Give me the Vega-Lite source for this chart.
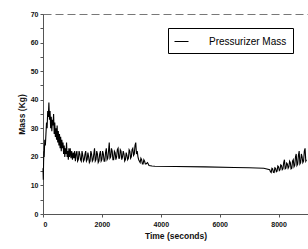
{
  "$schema": "https://vega.github.io/schema/vega-lite/v6.json",
  "width": 265,
  "height": 200,
  "autosize": {"type": "none"},
  "padding": {"left": 43, "top": 14, "right": 0, "bottom": 35},
  "background": "white",
  "config": {
    "font": "Liberation Sans",
    "view": {"stroke": "#777", "strokeDash": [8, 4], "strokeWidth": 1}
  },
  "data": {
    "values": [
      {"t": 0, "m": 16}, {"t": 10, "m": 12}, {"t": 20, "m": 18}, {"t": 30, "m": 22}, {"t": 40, "m": 20},
      {"t": 60, "m": 26}, {"t": 80, "m": 24}, {"t": 100, "m": 28}, {"t": 120, "m": 32}, {"t": 140, "m": 30},
      {"t": 160, "m": 36}, {"t": 180, "m": 34}, {"t": 200, "m": 39}, {"t": 220, "m": 33}, {"t": 240, "m": 36},
      {"t": 260, "m": 30}, {"t": 280, "m": 34}, {"t": 300, "m": 29}, {"t": 320, "m": 33}, {"t": 340, "m": 31},
      {"t": 360, "m": 35}, {"t": 380, "m": 28}, {"t": 400, "m": 32}, {"t": 420, "m": 27}, {"t": 440, "m": 30},
      {"t": 460, "m": 26}, {"t": 480, "m": 31}, {"t": 500, "m": 25}, {"t": 520, "m": 29}, {"t": 540, "m": 24},
      {"t": 560, "m": 28}, {"t": 580, "m": 23}, {"t": 600, "m": 27}, {"t": 620, "m": 22}, {"t": 640, "m": 26},
      {"t": 660, "m": 23}, {"t": 680, "m": 25}, {"t": 700, "m": 21}, {"t": 720, "m": 24}, {"t": 740, "m": 20},
      {"t": 760, "m": 23}, {"t": 780, "m": 21}, {"t": 800, "m": 25}, {"t": 820, "m": 20}, {"t": 840, "m": 22},
      {"t": 860, "m": 19}, {"t": 880, "m": 23}, {"t": 900, "m": 20}, {"t": 925, "m": 23}, {"t": 950, "m": 19.5},
      {"t": 975, "m": 22}, {"t": 1000, "m": 19}, {"t": 1025, "m": 21.5},
      {"t": 1050, "m": 19.5}, {"t": 1075, "m": 22}, {"t": 1100, "m": 18.5}, {"t": 1125, "m": 21}, {"t": 1150, "m": 22},
      {"t": 1175, "m": 18.5}, {"t": 1200, "m": 19}, {"t": 1225, "m": 22}, {"t": 1250, "m": 21},
      {"t": 1275, "m": 19}, {"t": 1300, "m": 18.5}, {"t": 1325, "m": 22}, {"t": 1350, "m": 20.5}, {"t": 1375, "m": 18.5},
      {"t": 1400, "m": 19}, {"t": 1425, "m": 21}, {"t": 1450, "m": 22}, {"t": 1475, "m": 18.5}, {"t": 1500, "m": 19},
      {"t": 1525, "m": 21.5}, {"t": 1550, "m": 20}, {"t": 1575, "m": 18}, {"t": 1600, "m": 18.5}, {"t": 1625, "m": 22},
      {"t": 1650, "m": 21}, {"t": 1675, "m": 18.5}, {"t": 1700, "m": 19}, {"t": 1725, "m": 21}, {"t": 1750, "m": 23},
      {"t": 1775, "m": 18.5}, {"t": 1800, "m": 19}, {"t": 1825, "m": 22}, {"t": 1850, "m": 21}, {"t": 1875, "m": 18},
      {"t": 1900, "m": 18.5}, {"t": 1925, "m": 21}, {"t": 1950, "m": 22}, {"t": 1975, "m": 18.5}, {"t": 2000, "m": 19},
      {"t": 2025, "m": 22}, {"t": 2050, "m": 21}, {"t": 2075, "m": 18.5}, {"t": 2100, "m": 18.5}, {"t": 2125, "m": 21.5},
      {"t": 2150, "m": 23}, {"t": 2175, "m": 19}, {"t": 2200, "m": 19.5}, {"t": 2225, "m": 22}, {"t": 2250, "m": 25},
      {"t": 2275, "m": 19.5}, {"t": 2300, "m": 20}, {"t": 2325, "m": 23}, {"t": 2350, "m": 22}, {"t": 2375, "m": 19},
      {"t": 2400, "m": 19}, {"t": 2425, "m": 22}, {"t": 2450, "m": 21.5}, {"t": 2475, "m": 19}, {"t": 2500, "m": 20},
      {"t": 2525, "m": 22.5}, {"t": 2550, "m": 23}, {"t": 2575, "m": 19.5}, {"t": 2600, "m": 19.5}, {"t": 2625, "m": 22.5},
      {"t": 2650, "m": 22}, {"t": 2675, "m": 19}, {"t": 2700, "m": 20}, {"t": 2725, "m": 22}, {"t": 2750, "m": 21},
      {"t": 2775, "m": 18.5}, {"t": 2800, "m": 19}, {"t": 2825, "m": 21.5}, {"t": 2850, "m": 20.5}, {"t": 2875, "m": 19},
      {"t": 2900, "m": 19.5}, {"t": 2925, "m": 22.5}, {"t": 2950, "m": 22}, {"t": 2975, "m": 19.5}, {"t": 3000, "m": 20},
      {"t": 3025, "m": 22.5}, {"t": 3050, "m": 23}, {"t": 3075, "m": 20.5}, {"t": 3100, "m": 21}, {"t": 3125, "m": 24},
      {"t": 3150, "m": 25}, {"t": 3175, "m": 21}, {"t": 3200, "m": 22}, {"t": 3225, "m": 20}, {"t": 3250, "m": 19},
      {"t": 3275, "m": 18.5}, {"t": 3300, "m": 18}, {"t": 3325, "m": 19.5}, {"t": 3350, "m": 19}, {"t": 3375, "m": 17.5},
      {"t": 3400, "m": 17.5}, {"t": 3425, "m": 19}, {"t": 3450, "m": 18.5}, {"t": 3475, "m": 17.5}, {"t": 3500, "m": 17.5},
      {"t": 3550, "m": 18}, {"t": 3600, "m": 17}, {"t": 3700, "m": 16.8}, {"t": 3800, "m": 16.7}, {"t": 4500, "m": 16.6},
      {"t": 5500, "m": 16.5}, {"t": 6500, "m": 16.3}, {"t": 7000, "m": 16.2}, {"t": 7500, "m": 16},
      {"t": 7700, "m": 15.5}, {"t": 7725, "m": 14.8}, {"t": 7750, "m": 14.5}, {"t": 7775, "m": 16}, {"t": 7800, "m": 15.8},
      {"t": 7825, "m": 14.6}, {"t": 7850, "m": 14.5}, {"t": 7875, "m": 16.2}, {"t": 7900, "m": 16},
      {"t": 7925, "m": 14.8}, {"t": 7950, "m": 15}, {"t": 7975, "m": 16.8}, {"t": 8000, "m": 16.5}, {"t": 8025, "m": 15.2},
      {"t": 8050, "m": 15.5}, {"t": 8075, "m": 17.2}, {"t": 8100, "m": 17}, {"t": 8125, "m": 15.5}, {"t": 8150, "m": 15.8},
      {"t": 8175, "m": 18}, {"t": 8200, "m": 19}, {"t": 8225, "m": 15.8}, {"t": 8250, "m": 16}, {"t": 8275, "m": 17.8},
      {"t": 8300, "m": 17.5}, {"t": 8325, "m": 16}, {"t": 8350, "m": 16.5}, {"t": 8375, "m": 18.5}, {"t": 8400, "m": 18},
      {"t": 8425, "m": 15.8}, {"t": 8450, "m": 16}, {"t": 8475, "m": 18.5}, {"t": 8500, "m": 19}, {"t": 8525, "m": 16.5},
      {"t": 8550, "m": 17}, {"t": 8575, "m": 20}, {"t": 8600, "m": 21}, {"t": 8625, "m": 17}, {"t": 8650, "m": 17.5},
      {"t": 8675, "m": 20.5}, {"t": 8700, "m": 22}, {"t": 8725, "m": 17.5}, {"t": 8750, "m": 18}, {"t": 8775, "m": 21},
      {"t": 8800, "m": 20}, {"t": 8825, "m": 18}, {"t": 8850, "m": 18.5}, {"t": 8875, "m": 22}, {"t": 8900, "m": 23},
      {"t": 8925, "m": 18.5}, {"t": 8950, "m": 19}
    ]
  },
  "mark": {"type": "line", "strokeWidth": 1.1, "interpolate": "linear"},
  "encoding": {
    "x": {
      "field": "t", "type": "quantitative",
      "scale": {"domain": [0, 9000], "nice": false},
      "axis": {
        "title": "Time (seconds)", "values": [0, 2000, 4000, 6000, 8000], "format": "d",
        "grid": false, "domainColor": "#555", "tickColor": "#555", "tickSize": 3,
        "labelFont": "Liberation Sans", "labelFontSize": 7, "labelFontWeight": "bold", "labelColor": "#111",
        "labelPadding": 3, "titleFont": "Liberation Sans", "titleFontSize": 8.5, "titleFontWeight": "bold",
        "titleColor": "#111", "titlePadding": 4
      }
    },
    "y": {
      "field": "m", "type": "quantitative",
      "scale": {"domain": [0, 70], "nice": false},
      "axis": {
        "title": "Mass (Kg)", "values": [0, 5, 10, 15, 20, 25, 30, 35, 40, 45, 50, 55, 60, 65, 70],
        "labelExpr": "datum.value % 10 == 0 ? datum.label : ''",
        "grid": false, "domainColor": "#555", "tickColor": "#555", "tickSize": 3,
        "labelFont": "Liberation Sans", "labelFontSize": 7, "labelFontWeight": "bold", "labelColor": "#111",
        "labelPadding": 2, "titleFont": "Liberation Sans", "titleFontSize": 8.5, "titleFontWeight": "bold",
        "titleColor": "#111", "titlePadding": 4
      }
    },
    "color": {
      "datum": "Pressurizer Mass", "type": "nominal",
      "scale": {"range": ["#000000"]},
      "legend": {
        "title": null, "orient": "none", "legendX": 125, "legendY": 14,
        "symbolType": "stroke", "symbolSize": 196, "symbolStrokeWidth": 1,
        "labelFont": "Liberation Sans", "labelFontSize": 10, "labelColor": "#000",
        "labelOffset": 20, "padding": 6, "fillColor": "white", "strokeColor": "#000",
        "offset": 0
      }
    }
  }
}
